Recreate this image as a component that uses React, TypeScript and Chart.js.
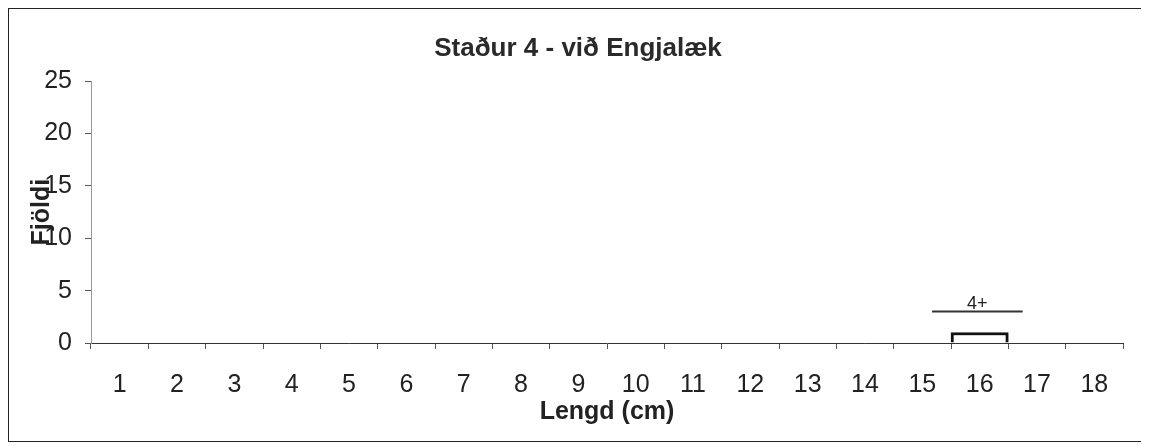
import React, { useEffect, useRef } from 'react';
import { Chart, registerables } from 'chart.js';

Chart.register(...registerables);

// ---- data ----
const categories = ['1', '2', '3', '4', '5', '6', '7', '8', '9', '10', '11', '12', '13', '14', '15', '16', '17', '18'];
const counts = [0, 0, 0, 0, 0, 0, 0, 0, 0, 0, 0, 0, 0, 0, 0, 1, 0, 0];
const yMin = 0;
const yMax = 25;
const yStep = 5;

// age-group marker (length range in cm, drawn at a count level)
const groupLabels = ['4+'];
const groupFrom = [15.17];
const groupTo = [16.75];
const groupLevel = [3];

const titleText = 'Staður 4 - við Engjalæk';
const xTitle = 'Lengd (cm)';
const yTitle = 'Fjöldi';

const FONT = "'Liberation Sans', Arial, Helvetica, sans-serif";

const groupPlugin = {
  id: 'ageGroups',
  afterDatasetsDraw(chart: any) {
    const { ctx, scales } = chart;
    const x = scales.x;
    const y = scales.y;
    ctx.save();
    groupLabels.forEach((label, i) => {
      const x1 = x.getPixelForValue(groupFrom[i] - 1);
      const x2 = x.getPixelForValue(groupTo[i] - 1);
      const py = y.getPixelForValue(groupLevel[i]);
      ctx.strokeStyle = '#333';
      ctx.lineWidth = 2;
      ctx.beginPath();
      ctx.moveTo(x1, py);
      ctx.lineTo(x2, py);
      ctx.stroke();
      ctx.fillStyle = '#222';
      ctx.font = `18px ${FONT}`;
      ctx.textAlign = 'center';
      ctx.textBaseline = 'alphabetic';
      ctx.fillText(label, (x1 + x2) / 2, py - 3);
    });
    ctx.restore();
  },
};

export default function App() {
  const ref = useRef<HTMLCanvasElement>(null);

  useEffect(() => {
    if (!ref.current) return;
    const chart = new Chart(ref.current, {
      type: 'bar',
      data: {
        labels: categories,
        datasets: [
          {
            data: counts,
            backgroundColor: '#ffffff',
            borderColor: '#111111',
            borderWidth: 3,
            borderSkipped: 'start',
            barPercentage: 1,
            categoryPercentage: 1,
          },
        ],
      },
      options: {
        responsive: false,
        animation: false,
        layout: { padding: 0 },
        plugins: {
          legend: { display: false },
          tooltip: { enabled: false },
          title: {
            display: true,
            text: titleText,
            color: '#2a2a2a',
            font: { family: FONT, size: 26, weight: 'bold' },
            padding: { top: 24, bottom: 17 },
          },
        },
        scales: {
          x: {
            grid: {
              display: true,
              drawOnChartArea: false,
              drawTicks: true,
              tickLength: 6,
              offset: true,
              color: '#555',
            },
            border: { display: true, color: '#333', width: 1 },
            ticks: {
              color: '#222',
              font: { family: FONT, size: 25 },
              padding: 21,
              maxRotation: 0,
              autoSkip: false,
            },
            title: {
              display: true,
              text: xTitle,
              color: '#222',
              font: { family: FONT, size: 25, weight: 'bold' },
              padding: { top: 0, bottom: 14 },
            },
            afterFit: (scale: any) => {
              scale.height = 98;
            },
          },
          y: {
            min: yMin,
            max: yMax,
            grid: {
              display: true,
              drawOnChartArea: false,
              drawTicks: true,
              tickLength: 6,
              color: '#555',
            },
            border: { display: true, color: '#999', width: 1 },
            ticks: {
              stepSize: yStep,
              color: '#222',
              font: { family: FONT, size: 25 },
              padding: 13,
            },
            title: {
              display: true,
              text: yTitle,
              color: '#222',
              font: { family: FONT, size: 25, weight: 'bold' },
              padding: { top: 18, bottom: 0 },
            },
            afterFit: (scale: any) => {
              scale.width = 82;
            },
          },
          spacer: {
            type: 'linear',
            position: 'right',
            display: true,
            grid: { display: false, drawTicks: false },
            border: { display: false },
            ticks: { display: false },
            afterFit: (scale: any) => {
              scale.width = 24;
            },
          },
        },
      },
      plugins: [groupPlugin],
    });
    return () => chart.destroy();
  }, []);

  return (
    <div
      style={{
        width: 1140,
        height: 434,
        border: '1px solid #222',
        boxSizing: 'border-box',
        background: '#fff',
      }}
    >
      <canvas ref={ref} width={1138} height={432} style={{ display: 'block' }} />
    </div>
  );
}
